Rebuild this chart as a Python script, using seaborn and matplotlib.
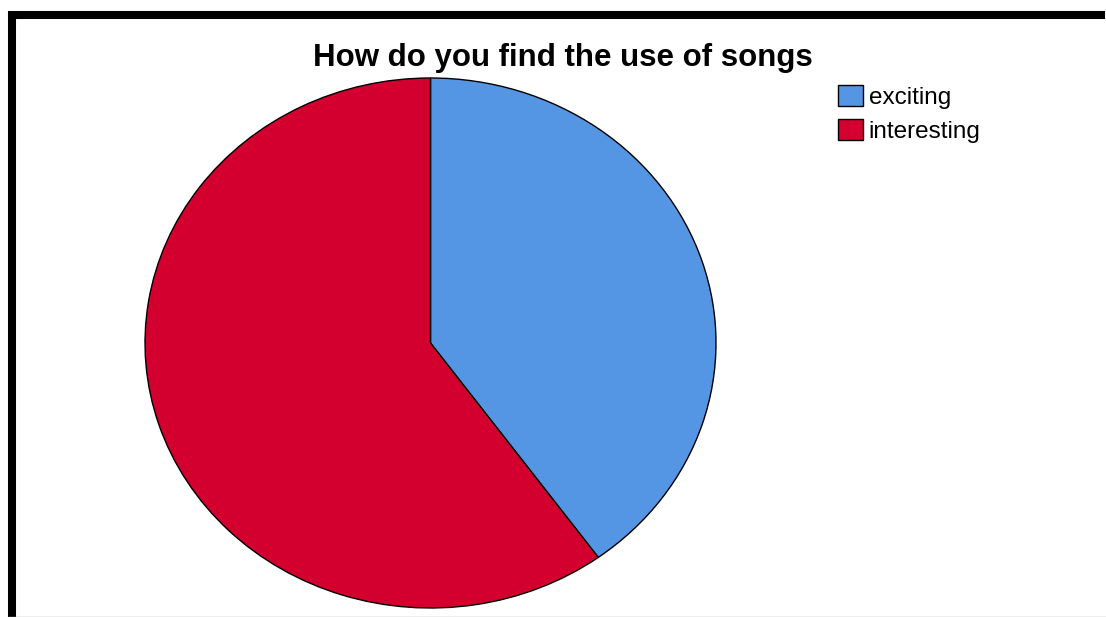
import matplotlib
matplotlib.use("Agg")
import matplotlib.pyplot as plt
import seaborn as sns
from matplotlib.lines import Line2D
from matplotlib.patches import Patch

sns.set_style("white")
plt.rcParams['font.family'] = ['Liberation Sans', 'DejaVu Sans']
plt.rcParams['text.color'] = 'black'

categories = ["exciting", "interesting"]
values = [40, 60]
colors = ["#5596E4", "#D3002F"]
title = "How do you find the use of songs"

W, H = 1106, 617
fig = plt.figure(figsize=(W / 100, H / 100), dpi=100)
fig.patch.set_facecolor("white")

# pie axes (ellipse as in reference)
left, right, top, bottom = 145, 716, 78, 608
ax = fig.add_axes([left / W, (H - bottom) / H, (right - left) / W, (bottom - top) / H])
ax.pie(values, colors=colors, startangle=90, counterclock=False,
       wedgeprops=dict(edgecolor="black", linewidth=1.0))
ax.set_aspect("auto")
ax.set_xlim(-1.0, 1.0)
ax.set_ylim(-1.0, 1.0)
ax.axis("off")

fig.text(563 / W, 1 - 58 / H, title, ha="center", va="center",
         fontsize=22.5, fontweight="bold", color="black")

handles = [Patch(facecolor=c, edgecolor="black", linewidth=1.0) for c in colors]
leg = fig.legend(handles, categories, loc="upper left", bbox_to_anchor=(831 / W, 1 - 78 / H),
                 frameon=False, fontsize=17.5, handlelength=1.0, handleheight=0.95,
                 handletextpad=0.25, labelspacing=0.4, borderaxespad=0, borderpad=0.3)
for t in leg.get_texts():
    t.set_color("black")

# frame lines
fig.add_artist(Line2D([12 / W, 12 / W], [0, 1 - 11 / H], transform=fig.transFigure,
                      color="black", linewidth=5.8, solid_capstyle="butt"))
fig.add_artist(Line2D([8 / W, 1105 / W], [1 - 15 / H, 1 - 15 / H], transform=fig.transFigure,
                      color="black", linewidth=5.8, solid_capstyle="butt"))
fig.add_artist(Line2D([8 / W, 1], [0.5 / H, 0.5 / H], transform=fig.transFigure,
                      color="#aaaaaa", linewidth=1.0, solid_capstyle="butt"))

fig.savefig("out.png", dpi=100)
